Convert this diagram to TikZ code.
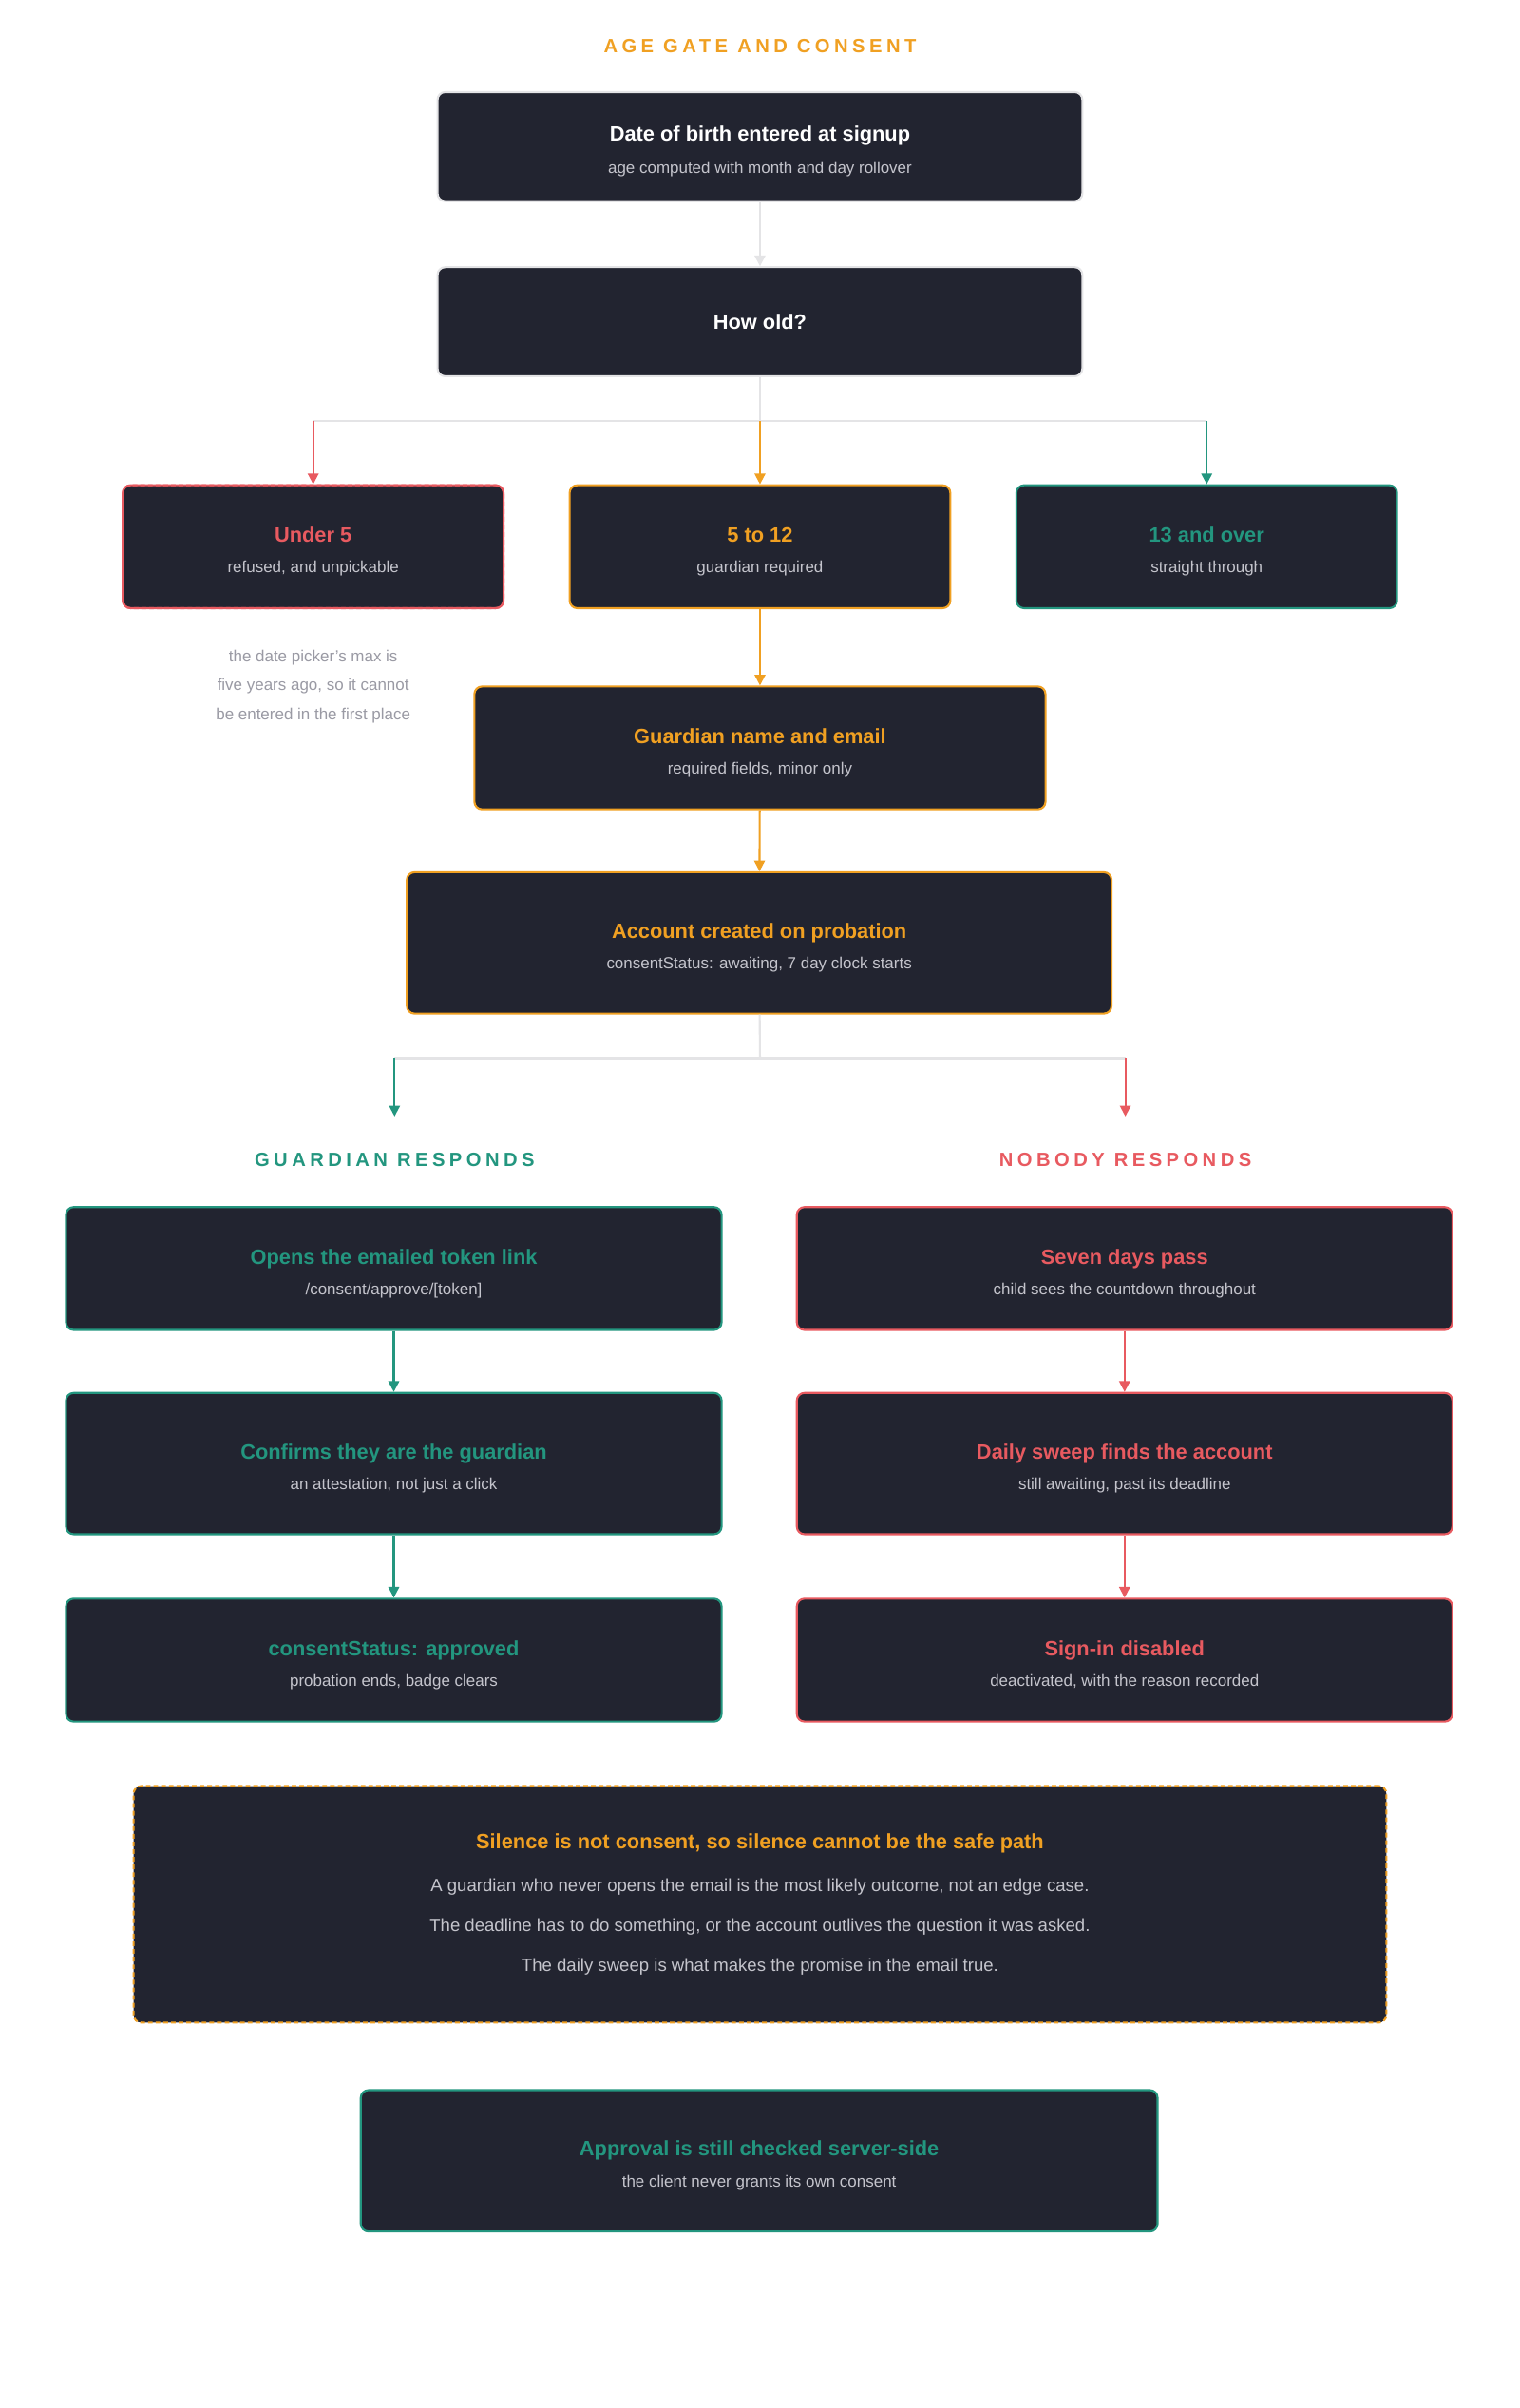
\documentclass[tikz,border=0pt]{standalone}
\usepackage{fontspec}
\setmainfont{Liberation Sans}
\usetikzlibrary{arrows.meta}
\definecolor{bg}{HTML}{222430}
\definecolor{org}{HTML}{F0A022}
\definecolor{teal}{HTML}{23967F}
\definecolor{red}{HTML}{E85A60}
\definecolor{sub}{HTML}{C4C4CC}
\definecolor{ln}{HTML}{E4E4E6}
\definecolor{note}{HTML}{9A9AA4}
\tikzset{
 box/.style={draw=#1, fill=bg, rounded corners=5pt, line width=1.3pt, align=center, inner sep=0pt},
 t/.style={font=\bfseries\fontsize{13.5}{16}\selectfont},
 s/.style={font=\fontsize{10.5}{13}\selectfont, text=sub},
 con/.style={line width=1.3pt, draw=#1},
 arr/.style={line width=1.3pt, draw=#1, -{Triangle[width=7pt,length=7pt]}},
 head/.style={font=\bfseries\fontsize{12.5}{15}\selectfont\addfontfeatures{LetterSpace=22}},
}
\newcommand{\bx}[8]{% name, color, x1, x2, y1, y2, title, sub
 \node[box=#2, minimum width=#4pt-#3pt, minimum height=#6pt-#5pt] (#1) at ({(#3+#4)/2},{(#5+#6)/2}) {};
 \node[t, text=#2, anchor=base] (#1t) at ({(#3+#4)/2},{(#5+#6)/2-3}) {#7};
 \node[s, anchor=base] (#1s) at ({(#3+#4)/2},{(#5+#6)/2+17}) {#8};}
\begin{document}
\begin{tikzpicture}[x=1pt,y=-1pt]
\useasboundingbox[fill=white] (0,0) rectangle (990,1568);
\node[head, text=org] (title) at (495,30) {AGE GATE AND CONSENT};
\node[box=ln, minimum width=420pt, minimum height=71pt] (n1) at (495,95.5) {};
\node[t, text=white, anchor=base] (n1t) at (495,92) {Date of birth entered at signup};
\node[s, anchor=base] (n1s) at (495,113) {age computed with month and day rollover};
\node[box=ln, minimum width=420pt, minimum height=71pt] (n2) at (495,209.5) {};
\node[t, text=white] (n2t) at (495,209.5) {How old?};
\draw[arr=ln] (n1) -- (n2);
\coordinate (b1) at (495,274); \coordinate (bl) at (204,274); \coordinate (br) at (786,274);
\draw[con=ln] (n2) -- (b1); \draw[con=ln] (bl) -- (br);
\bx{u5}{red}{80}{328}{316}{396}{Under 5}{refused, and unpickable}
\draw[box=red, dash pattern=on 3pt off 2pt, fill=none] (80,316) rectangle (328,396);
\bx{m}{org}{371}{619}{316}{396}{5 to 12}{guardian required}
\bx{o}{teal}{662}{910}{316}{396}{13 and over}{straight through}
\draw[arr=red] (bl) -- (u5);
\draw[arr=org] (b1) -- (m);
\draw[arr=teal] (br) -- (o);
\node[s, text=note, align=center, font=\fontsize{10.5}{19}\selectfont] (nt) at (204,447) {the date picker's max is\\five years ago, so it cannot\\be entered in the first place};
\bx{g}{org}{309}{681}{447}{527}{Guardian name and email}{required fields, minor only}
\draw[arr=org] (m) -- (g);
\bx{a}{org}{265}{724}{568}{660}{Account created on probation}{consentStatus: awaiting, 7 day clock starts}
\draw[arr=org] (g) -- (a);
\coordinate (c1) at (495,689); \coordinate (cl) at (257,689); \coordinate (cr) at (733,689);
\coordinate (hl) at (257,727); \coordinate (hr) at (733,727);
\draw[con=ln] (a) -- (c1); \draw[con=ln] (cl) -- (cr);
\draw[arr=teal] (cl) -- (hl); \draw[arr=red] (cr) -- (hr);
\node[head, text=teal] (gh) at (257,755) {GUARDIAN RESPONDS};
\node[head, text=red] (nh) at (733,755) {NOBODY RESPONDS};
\bx{l1}{teal}{43}{470}{786}{866}{Opens the emailed token link}{/consent/approve/[token]}
\bx{l2}{teal}{43}{470}{907}{999}{Confirms they are the guardian}{an attestation, not just a click}
\bx{l3}{teal}{43}{470}{1041}{1121}{consentStatus: approved}{probation ends, badge clears}
\bx{r1}{red}{519}{946}{786}{866}{Seven days pass}{child sees the countdown throughout}
\bx{r2}{red}{519}{946}{907}{999}{Daily sweep finds the account}{still awaiting, past its deadline}
\bx{r3}{red}{519}{946}{1041}{1121}{Sign-in disabled}{deactivated, with the reason recorded}
\draw[arr=teal] (l1) -- (l2); \draw[arr=teal] (l2) -- (l3);
\draw[arr=red] (r1) -- (r2); \draw[arr=red] (r2) -- (r3);
\node[box=org, dash pattern=on 3pt off 2pt, minimum width=816pt, minimum height=154pt] (cb) at (495,1240) {};
\node[t, text=org, anchor=base] (cbt) at (495,1204) {Silence is not consent, so silence cannot be the safe path};
\node[s, align=center, font=\fontsize{11.5}{26}\selectfont, anchor=north] (cbs) at (495,1220) {A guardian who never opens the email is the most likely outcome, not an edge case.\\The deadline has to do something, or the account outlives the question it was asked.\\The daily sweep is what makes the promise in the email true.};
\bx{f}{teal}{235}{754}{1361}{1453}{Approval is still checked server-side}{the client never grants its own consent}
\end{tikzpicture}
\end{document}
